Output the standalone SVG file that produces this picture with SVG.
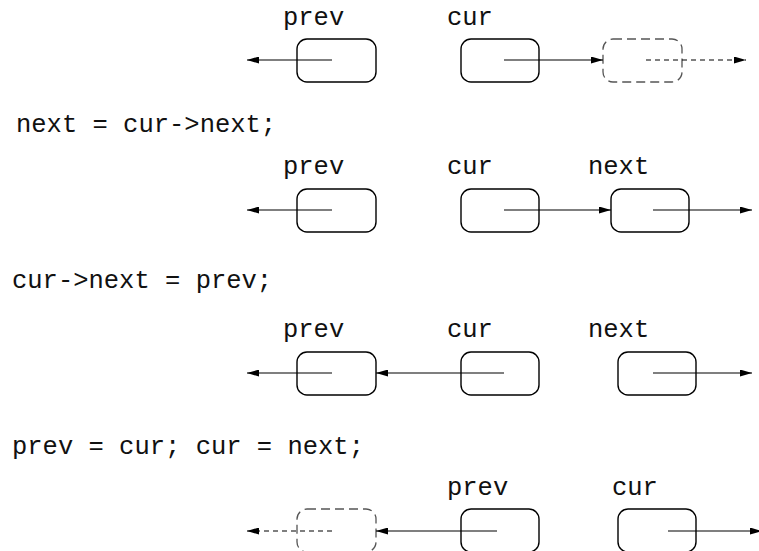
<svg xmlns="http://www.w3.org/2000/svg" width="759" height="551" viewBox="0 0 759 551">
<style>
text{font-family:"Liberation Mono","Courier New",monospace;font-size:25.5px;fill:#111}
.box{fill:none;stroke:#000;stroke-width:1.4}
.dbox{fill:none;stroke:#555;stroke-width:1.3;stroke-dasharray:9 5}
.ln{fill:none;stroke:#000;stroke-width:1.1;marker-end:url(#ah)}
.dln{fill:none;stroke:#000;stroke-width:1.1;stroke-dasharray:5 4;marker-end:url(#ah)}
</style>
<defs>
<marker id="ah" viewBox="0 0 12 7" refX="12" refY="3.5" markerWidth="12" markerHeight="7" markerUnits="userSpaceOnUse" orient="auto">
<path d="M0,0 L12,3.5 L0,7 z" fill="#000"/>
</marker>
</defs>
<rect width="759" height="551" fill="#fff"/>
<g id="code">
<text x="16" y="132">next = cur-&gt;next;</text>
<text x="12" y="288">cur-&gt;next = prev;</text>
<text x="12" y="454">prev = cur; cur = next;</text>
</g>
<g id="row1">
<g id="r1-prev"><text x="283" y="25">prev</text><rect class="box" x="297" y="39" width="79" height="43" rx="10"/></g>
<g id="r1-cur"><text x="447" y="25">cur</text><rect class="box" x="461" y="39" width="78" height="43" rx="10"/></g>
<g id="r1-ghost"><rect class="dbox" x="603" y="39" width="79" height="43" rx="10"/></g>
</g>
<g id="row2">
<g id="r2-prev"><text x="283" y="174">prev</text><rect class="box" x="297" y="189" width="79" height="43" rx="10"/></g>
<g id="r2-cur"><text x="447" y="174">cur</text><rect class="box" x="461" y="189" width="78" height="43" rx="10"/></g>
<g id="r2-next"><text x="588" y="174">next</text><rect class="box" x="611" y="189" width="78" height="43" rx="10"/></g>
</g>
<g id="row3">
<g id="r3-prev"><text x="283" y="337">prev</text><rect class="box" x="297" y="352" width="79" height="43" rx="10"/></g>
<g id="r3-cur"><text x="447" y="337">cur</text><rect class="box" x="461" y="352" width="78" height="43" rx="10"/></g>
<g id="r3-next"><text x="588" y="337">next</text><rect class="box" x="618" y="352" width="78" height="43" rx="10"/></g>
</g>
<g id="row4">
<g id="r4-ghost"><rect class="dbox" x="297" y="509" width="79" height="43" rx="10"/></g>
<g id="r4-prev"><text x="447" y="495">prev</text><rect class="box" x="461" y="509" width="78" height="43" rx="10"/></g>
<g id="r4-cur"><text x="612" y="495">cur</text><rect class="box" x="618" y="509" width="78" height="43" rx="10"/></g>
</g>
<g id="connectors">
<path class="ln" d="M332,60 H247"/>
<path class="ln" d="M504,60 H603"/>
<path class="dln" d="M646,60 H746"/>
<path class="ln" d="M332,210 H247"/>
<path class="ln" d="M504,210 H611"/>
<path class="ln" d="M653,210 H752"/>
<path class="ln" d="M332,373 H247"/>
<path class="ln" d="M504,373 H376"/>
<path class="ln" d="M653,373 H752"/>
<path class="dln" d="M332,531 H247"/>
<path class="ln" d="M497,531 H376"/>
<path class="ln" d="M668,531 H762"/>
</g>
</svg>
